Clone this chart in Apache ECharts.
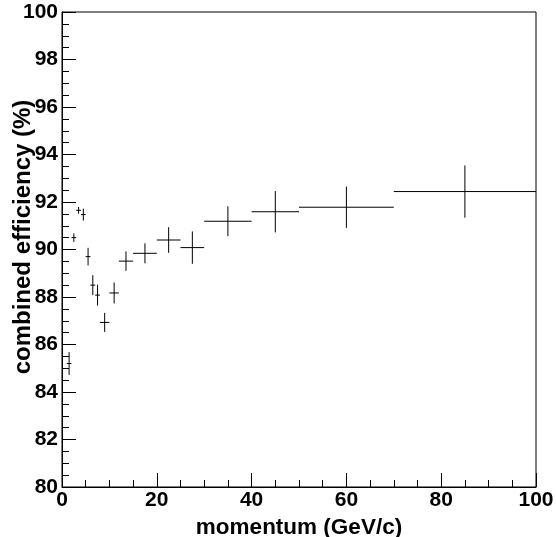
<!DOCTYPE html>
<html>
<head>
<meta charset="utf-8">
<script src="https://cdn.jsdelivr.net/npm/echarts@6/dist/echarts.min.js"></script>
<style>
html,body{margin:0;padding:0;background:#fff;}
#chart{width:556px;height:537px;}
</style>
</head>
<body>
<div id="chart"></div>
<script>
// Data: momentum bin centre, half bin width, efficiency, error
const momentum      = [1.5, 2.5, 3.5, 4.5, 5.5, 6.5, 7.5, 9, 11, 13.5, 17.5, 22.5, 27.5, 35, 45, 60, 85];
const momentumHalfW = [0.5, 0.5, 0.5, 0.5, 0.5, 0.5, 0.5, 1, 1, 1.5, 2.5, 2.5, 2.5, 5, 5, 10, 15];
const efficiency    = [85.2, 90.5, 91.65, 91.47, 89.7, 88.5, 88.08, 86.93, 88.17, 89.51, 89.84, 90.4, 90.08, 91.19, 91.59, 91.78, 92.44];
const efficiencyErr = [0.48, 0.18, 0.14, 0.25, 0.37, 0.42, 0.44, 0.4, 0.44, 0.41, 0.42, 0.54, 0.68, 0.63, 0.87, 0.87, 1.1];

const xTitle = 'momentum (GeV/c)';
const yTitle = 'combined efficiency (%)';

const data = momentum.map((m, i) => [m, momentumHalfW[i], efficiency[i], efficiencyErr[i]]);

const FONT = '"Liberation Sans", Arial, Helvetica, sans-serif';
const chart = echarts.init(document.getElementById('chart'));

function renderItem(params, api) {
  const x = api.value(0), xe = api.value(1), y = api.value(2), ye = api.value(3);
  const l = api.coord([x - xe, y]);
  const r = api.coord([x + xe, y]);
  const b = api.coord([x, y - ye]);
  const t = api.coord([x, y + ye]);
  const st = {stroke: '#000', lineWidth: 1};
  return {
    type: 'group',
    children: [
      {type: 'line', shape: {x1: l[0], y1: l[1], x2: r[0], y2: r[1]}, style: st},
      {type: 'line', shape: {x1: b[0], y1: b[1], x2: t[0], y2: t[1]}, style: st}
    ]
  };
}

chart.setOption({
  animation: false,
  backgroundColor: '#fff',
  grid: {left: 62, right: 20, top: 12, bottom: 50, outerBoundsMode: 'none', containLabel: false,
         show: true, borderColor: '#000', borderWidth: 1, backgroundColor: 'transparent'},
  xAxis: {
    type: 'value', min: 0, max: 100, interval: 20,
    name: xTitle, nameLocation: 'middle', nameGap: 25,
    nameTextStyle: {fontFamily: FONT, fontWeight: 'bold', fontSize: 22.5, color: '#000'},
    axisLine: {show: true, onZero: false, lineStyle: {color: '#000', width: 1}},
    axisTick: {show: true, inside: true, length: 14, lineStyle: {color: '#000'}},
    minorTick: {show: true, splitNumber: 4, length: 7, lineStyle: {color: '#000'}},
    splitLine: {show: false},
    axisLabel: {fontFamily: FONT, fontWeight: 'bold', fontSize: 21, color: '#000', margin: 3}
  },
  yAxis: {
    type: 'value', min: 80, max: 100, interval: 2,
    axisLine: {show: true, onZero: false, lineStyle: {color: '#000', width: 1}},
    axisTick: {show: true, inside: true, length: 14, lineStyle: {color: '#000'}},
    minorTick: {show: true, splitNumber: 4, length: 7, lineStyle: {color: '#000'}},
    splitLine: {show: false},
    axisLabel: {fontFamily: FONT, fontWeight: 'bold', fontSize: 21, color: '#000', margin: 4}
  },
  graphic: [{
    type: 'text', x: 23, y: 237, rotation: Math.PI / 2,
    style: {text: yTitle, fontFamily: FONT, fontWeight: 'bold', fontSize: 24, fill: '#000', align: 'center', verticalAlign: 'middle'}
  }],
  series: [{
    type: 'custom',
    renderItem: renderItem,
    encode: {x: 0, y: 2},
    data: data,
    clip: true
  }]
});
</script>
</body>
</html>
